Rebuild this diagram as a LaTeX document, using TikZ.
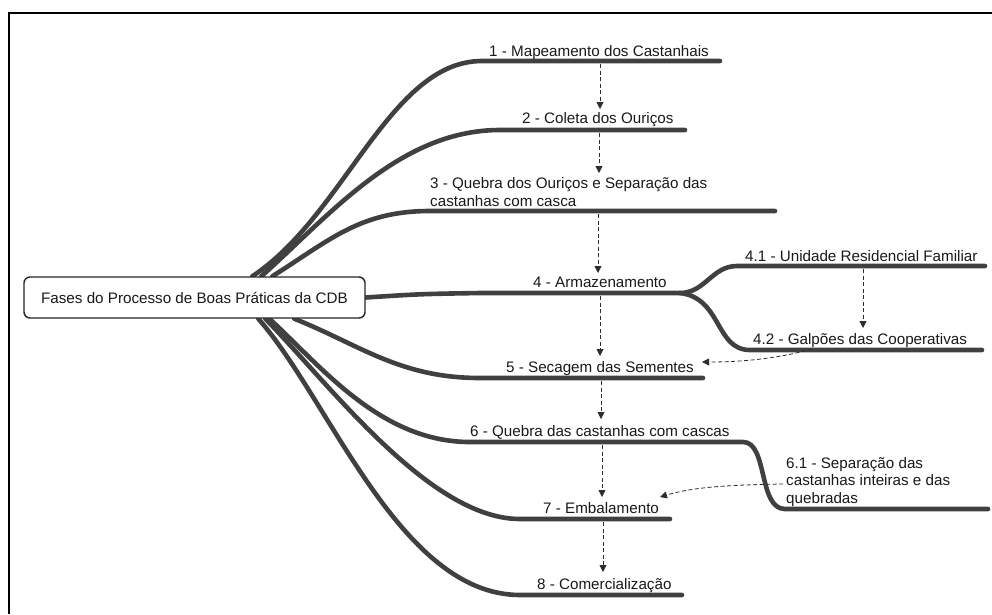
\documentclass[tikz,border=0pt]{standalone}
\usepackage{fontspec}
\setmainfont{Liberation Sans}
\usetikzlibrary{arrows.meta,calc}
\definecolor{branchc}{RGB}{64,64,64}
\definecolor{dashc}{RGB}{45,45,45}
\pgfdeclarelayer{bg}
\pgfsetlayers{bg,main}
\begin{document}
\begin{tikzpicture}[x=1pt,y=-1pt,
  branch/.style={line width=4.6pt,draw=branchc,line cap=round},
  flow/.style={draw=dashc,line width=0.8pt,dash pattern=on 4pt off 2.5pt,-{Triangle[length=7pt,width=7pt]}},
  lbl/.style={anchor=base west,inner sep=0pt,font=\fontsize{15.2}{17.5}\selectfont,align=left,text=black!90},
  rootbox/.style={draw=black!85,line width=1.4pt,rounded corners=6pt,fill=white,minimum width=341pt,minimum height=41pt,inner sep=0pt,font=\fontsize{15.2}{17.5}\selectfont,text=black!90}]
\useasboundingbox (0,0) rectangle (992,614);
% frame
\draw[line width=2pt] (992,13) -- (9,13) -- (9,614);

% root
\node[rootbox] (root) at (194.5,297.5) {Fases do Processo de Boas Práticas da CDB};

% labels (multi-line labels are anchored at the baseline of their last line)
\node[lbl] (l1) at (489,56.5) {1 - Mapeamento dos Castanhais};
\node[lbl] (l2) at (522,123.5) {2 - Coleta dos Ouriços};
\node[lbl] (l3) at (430,206) {3 - Quebra dos Ouriços e Separação das\\castanhas com casca};
\node[lbl] (l4) at (533,287.5) {4 - Armazenamento};
\node[lbl] (l41) at (745,261) {4.1 - Unidade Residencial Familiar};
\node[lbl] (l42) at (753,344) {4.2 - Galpões das Cooperativas};
\node[lbl] (l5) at (506,372.5) {5 - Secagem das Sementes};
\node[lbl] (l6) at (470,436) {6 - Quebra das castanhas com cascas};
\node[lbl] (l61) at (786,503) {6.1 - Separação das\\castanhas inteiras e das\\quebradas};
\node[lbl] (l7) at (543,513) {7 - Embalamento};
\node[lbl] (l8) at (537,589) {8 - Comercialização};

% branch points
\coordinate (r1) at ($(root.north west)+(229,0)$);
\coordinate (r2) at ($(root.north west)+(238,0)$);
\coordinate (r3) at ($(root.north west)+(249,0)$);
\coordinate (r5) at ($(root.south west)+(271,0)$);
\coordinate (r6) at ($(root.south west)+(246,0)$);
\coordinate (r7) at ($(root.south west)+(242,0)$);
\coordinate (r8) at ($(root.south west)+(235,0)$);
\coordinate (e1) at (720,61);
\coordinate (e2) at (685,130);
\coordinate (e3) at (775,211);
\coordinate (k4) at (680,293);
\coordinate (e41) at (985,266);
\coordinate (e42) at (982,350);
\coordinate (e5) at (703,378);
\coordinate (k6) at (743,442);
\coordinate (e6) at (988,509);
\coordinate (e7) at (670,519);
\coordinate (e8) at (682,595);

\begin{pgfonlayer}{bg}
\draw[branch] (r1) .. controls (345,215) and (390,61) .. (482,61) -- (e1);
\draw[branch] (r2) .. controls (330,215) and (400,130) .. (500,130) -- (e2);
\draw[branch] (r3) .. controls (330,240) and (360,211) .. (430,211) -- (e3);
\draw[branch] (root.east) .. controls (420,294) .. (480,293) -- (k4);
\draw[branch] (k4) .. controls (705,293) and (712,266) .. (737,266) -- (e41);
\draw[branch] (k4) .. controls (722,298) and (715,350) .. (750,350) -- (e42);
\draw[branch] (r5) .. controls (360,345) and (400,378) .. (480,378) -- (e5);
\draw[branch] (r6) .. controls (320,365) and (380,442) .. (470,442) -- (k6)
  .. controls (768,442) and (758,509) .. (785,509) -- (e6);
\draw[branch] (r7) .. controls (330,385) and (430,519) .. (520,519) -- (e7);
\draw[branch] (r8) .. controls (330,400) and (400,595) .. (520,595) -- (e8);
\end{pgfonlayer}

% flow arrows
\coordinate (a1s) at (600,64);  \coordinate (a1e) at (600,109);
\coordinate (a2s) at (599,133); \coordinate (a2e) at (599,173);
\coordinate (a3s) at (598,214); \coordinate (a3e) at (598,273);
\coordinate (a4s) at (600,296); \coordinate (a4e) at (600,356);
\coordinate (a41s) at (863,269); \coordinate (a41e) at (863,328);
\coordinate (a42s) at (812,349); \coordinate (a42e) at (702,362);
\coordinate (a5s) at (601,381); \coordinate (a5e) at (601,419);
\coordinate (a6s) at (602,445); \coordinate (a6e) at (602,497);
\coordinate (a61s) at (783,484); \coordinate (a61e) at (660,497);
\coordinate (a7s) at (603,522); \coordinate (a7e) at (603,572);

\draw[flow] (a1s) -- (a1e);
\draw[flow] (a2s) -- (a2e);
\draw[flow] (a3s) -- (a3e);
\draw[flow] (a4s) -- (a4e);
\draw[flow] (a41s) -- (a41e);
\draw[flow] (a42s) .. controls (780,358) and (745,362) .. (a42e);
\draw[flow] (a5s) -- (a5e);
\draw[flow] (a6s) -- (a6e);
\draw[flow] (a61s) .. controls (720,485) and (690,488) .. (a61e);
\draw[flow] (a7s) -- (a7e);
\end{tikzpicture}
\end{document}
